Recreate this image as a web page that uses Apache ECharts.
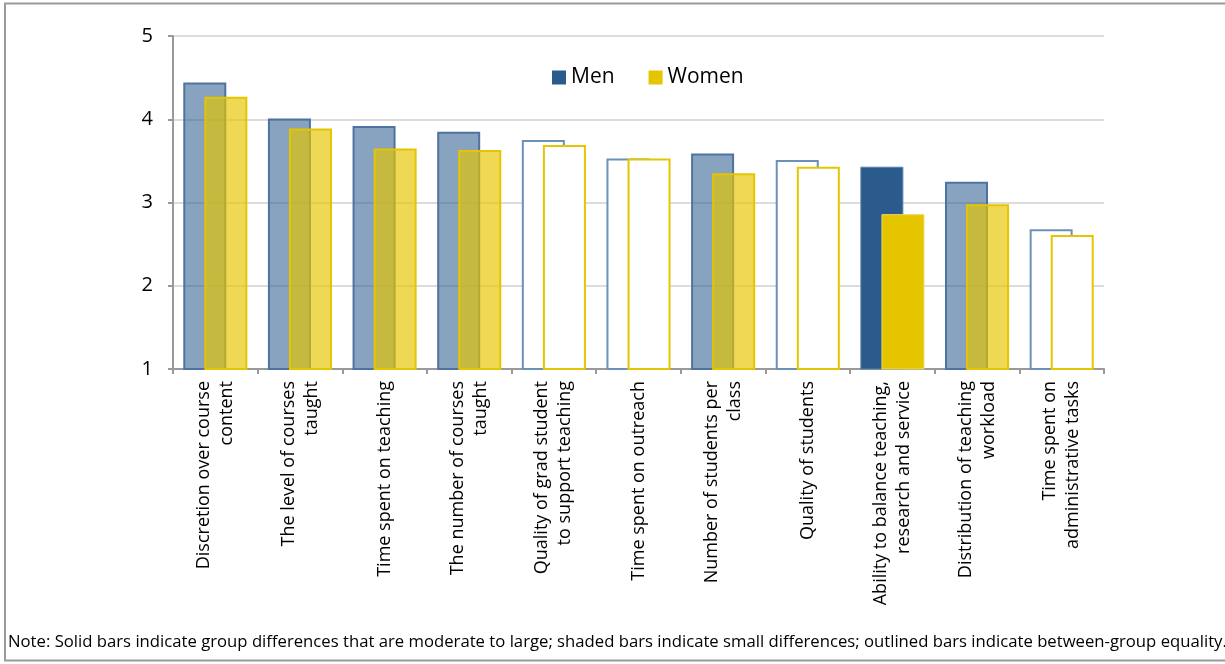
<!DOCTYPE html>
<html>
<head>
<meta charset="utf-8">
<script src="https://cdn.jsdelivr.net/npm/echarts@6/dist/echarts.min.js"></script>
<style>
html,body{margin:0;padding:0;background:#fff;}
#chart{width:1225px;height:664px;}
</style>
</head>
<body>
<div id="chart"></div>
<script>
const categories = [
  "Discretion over course\ncontent",
  "The level of courses\ntaught",
  "Time spent on teaching",
  "The number of courses\ntaught",
  "Quality of grad student\nto support teaching",
  "Time spent on outreach",
  "Number of students per\nclass",
  "Quality of students",
  "Ability to balance teaching,\nresearch and service",
  "Distribution of teaching\nworkload",
  "Time spent on\nadministrative tasks"
];
const menValues   = [4.44, 4.01, 3.92, 3.85, 3.75, 3.53, 3.59, 3.51, 3.43, 3.25, 2.68];
const womenValues = [4.27, 3.89, 3.65, 3.63, 3.69, 3.53, 3.35, 3.43, 2.86, 2.98, 2.61];
// difference type per category: solid = moderate/large, shaded = small, outlined = equality
const diffType = ["shaded","shaded","shaded","shaded","outlined","outlined","shaded","outlined","solid","shaded","outlined"];
const yTicks = [1, 2, 3, 4, 5];
const noteText = "Note: Solid bars indicate group differences that are moderate to large; shaded bars indicate small differences; outlined bars indicate between-group equality.";

const MEN = "#2A5B8C", WOMEN = "#E5C500";
const styleFor = {
  men: {
    solid:    {color: MEN, borderColor: "#5A80A8", borderWidth: 1},
    shaded:   {color: "rgba(42,91,140,0.56)", borderColor: "#4E73A0", borderWidth: 2},
    outlined: {color: "#ffffff", borderColor: "#6C91B8", borderWidth: 2}
  },
  women: {
    solid:    {color: WOMEN, borderColor: "#EED860", borderWidth: 1},
    shaded:   {color: "rgba(229,197,0,0.67)", borderColor: WOMEN, borderWidth: 2},
    outlined: {color: "#ffffff", borderColor: WOMEN, borderWidth: 2}
  }
};
const menData = menValues.map((v, i) => ({value: v, itemStyle: styleFor.men[diffType[i]]}));
const womenData = womenValues.map((v, i) => ({value: v, itemStyle: styleFor.women[diffType[i]]}));

const chart = echarts.init(document.getElementById('chart'));
const FONT = "'Open Sans', 'Noto Sans', sans-serif";
chart.setOption({
  animation: false,
  textStyle: {fontFamily: FONT},
  graphic: [
    {type: 'rect', shape: {x: 5, y: 3.5, width: 1240, height: 657}, style: {fill: 'none', stroke: '#9a9a9a', lineWidth: 2}, z: -1},
    {type: 'text', left: 8, top: 634, style: {text: noteText, font: "16.7px 'Open Sans', sans-serif", fill: '#000'}}
  ],
  legend: {
    left: 552, top: 67, padding: 0,
    itemWidth: 14, itemHeight: 14, itemGap: 34,
    textStyle: {fontSize: 21, color: '#000', fontFamily: FONT},
    data: [
      {name: 'Men', icon: 'rect', itemStyle: {color: MEN, borderWidth: 0}},
      {name: 'Women', icon: 'rect', itemStyle: {color: WOMEN, borderWidth: 0}}
    ]
  },
  grid: {left: 173, right: 121, top: 36, bottom: 295, containLabel: false},
  xAxis: {
    type: 'category',
    data: categories,
    axisLine: {lineStyle: {color: '#999', width: 2}},
    axisTick: {show: true, length: 5, lineStyle: {color: '#999', width: 2}},
    axisLabel: {rotate: 90, interval: 0, fontSize: 18, color: '#000', lineHeight: 23, margin: 12, fontFamily: FONT}
  },
  yAxis: {
    type: 'value', min: yTicks[0], max: yTicks[yTicks.length - 1], interval: 1,
    axisLine: {show: true, lineStyle: {color: '#999', width: 2}},
    axisTick: {show: true, length: 5, lineStyle: {color: '#999', width: 2}},
    splitLine: {lineStyle: {color: '#DCDCDC', width: 2}},
    axisLabel: {fontSize: 20, color: '#000', margin: 20, fontFamily: FONT}
  },
  series: [
    {name: 'Men', type: 'bar', data: menData, barWidth: 43, barGap: '-51%', itemStyle: {color: MEN}},
    {name: 'Women', type: 'bar', data: womenData, barWidth: 43, itemStyle: {color: WOMEN}}
  ]
});
</script>
</body>
</html>
